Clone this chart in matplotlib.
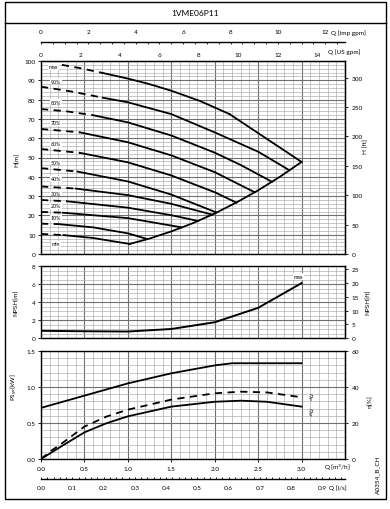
import matplotlib.pyplot as plt
from matplotlib.ticker import MultipleLocator, FixedLocator
from matplotlib.patches import Rectangle
from matplotlib.lines import Line2D

plt.rcParams['font.family'] = ['Lato', 'DejaVu Sans']

title = '1VME06P11'

# pump curves, Q [m3/h] -> H [m]; first n_dash points drawn dashed
curve_labels = ['max', '90%', '80%', '70%', '60%', '50%', '40%', '30%', '20%', '10%', 'min']
curve_q = [
    [0.24, 0.45, 0.71, 1.0, 1.25, 1.5, 1.83, 2.17],
    [0.0, 0.35, 0.71, 1.0, 1.5, 2.0, 2.5, 2.86],
    [0.0, 0.3, 0.6, 1.0, 1.5, 2.0, 2.3, 2.66],
    [0.0, 0.45, 1.0, 1.5, 2.0, 2.46],
    [0.0, 0.45, 1.0, 1.5, 2.0, 2.25],
    [0.0, 0.42, 1.0, 1.5, 2.02],
    [0.0, 0.4, 1.0, 1.5, 1.97],
    [0.0, 0.3, 1.0, 1.5, 1.81],
    [0.0, 0.25, 1.0, 1.62],
    [0.0, 0.2, 0.6, 1.0, 1.22],
    [0.0, 0.26, 0.6, 1.02],
]
curve_h = [
    [98.0, 96.3, 93.8, 90.9, 88.0, 84.6, 79.3, 72.5],
    [86.7, 84.2, 81.0, 78.6, 72.5, 63.0, 53.0, 43.4],
    [75.1, 73.9, 71.9, 68.2, 61.4, 52.5, 46.1, 37.4],
    [64.8, 63.0, 57.9, 51.1, 42.4, 32.0],
    [54.4, 52.4, 47.5, 40.7, 32.0, 26.6],
    [44.5, 42.7, 37.6, 30.8, 21.5],
    [35.0, 33.9, 30.5, 26.0, 20.4],
    [28.0, 27.3, 24.0, 20.1, 17.1],
    [21.8, 21.4, 18.6, 13.8],
    [15.7, 15.5, 13.8, 10.7, 7.8],
    [10.4, 9.8, 8.3, 5.2],
]
n_dash = [3, 3, 3, 2, 2, 2, 2, 2, 2, 2, 2]
label_q = [0.14, 0.17, 0.17, 0.17, 0.17, 0.17, 0.17, 0.17, 0.17, 0.17, 0.17]
label_h = [97.0, 89.6, 78.7, 67.9, 57.3, 47.6, 38.9, 31.6, 24.9, 18.7, 5.2]

# operating range limits
edge_q = [2.17, 3.0]
edge_h = [72.5, 47.7]
limit_q = [1.02, 1.25, 1.5, 1.75, 2.0, 2.25, 2.5, 2.75, 3.0]
limit_h = [5.2, 8.0, 11.7, 16.0, 21.0, 26.7, 33.0, 40.0, 47.7]

# NPSH
npsh_q = [0.0, 0.5, 1.0, 1.5, 2.0, 2.5, 3.0]
npsh_m = [0.8, 0.75, 0.72, 1.0, 1.75, 3.35, 6.1]

# power and efficiency
p1_q = [0.0, 0.5, 1.0, 1.5, 2.0, 2.2, 3.0]
p1_kw = [0.71, 0.88, 1.05, 1.19, 1.30, 1.33, 1.33]
etap_q = [0.0, 0.1, 0.25, 0.5, 0.75, 1.0, 1.5, 2.0, 2.3, 2.6, 3.0]
etap_pct = [0.0, 4.0, 9.0, 18.0, 23.5, 27.4, 33.0, 36.5, 37.4, 37.0, 34.3]
etagr_q = [0.0, 0.1, 0.25, 0.5, 0.75, 1.0, 1.5, 2.0, 2.3, 2.6, 3.0]
etagr_pct = [0.0, 3.0, 7.5, 14.8, 19.8, 23.7, 29.1, 31.8, 32.4, 31.8, 29.1]

imp_ticks = [0, 2, 4, 6, 8, 10, 12]
us_ticks = [0, 2, 4, 6, 8, 10, 12, 14]
ls_ticks = [0.0, 0.1, 0.2, 0.3, 0.4, 0.5, 0.6, 0.7, 0.8, 0.9]
hft_ticks = [0, 50, 100, 150, 200, 250, 300]
nft_ticks = [0, 5, 10, 15, 20, 25]
eta_ticks = [0, 20, 40, 60]

W, H = 390, 510
fig = plt.figure(figsize=(W / 100, H / 100), dpi=100)

def fx(px):
    return px / W

def fy(py):
    return 1 - py / H

L, R = 41, 345
qmax = 3.5
fs = 4.6
major_c, minor_c = '#707070', '#a8a8a8'

def ax_x(px):
    # pixel column -> axes fraction of the chart columns
    return (px - L) / (R - L)

def style(ax, ymaj, ymin):
    ax.set_xlim(0, qmax)
    ax.xaxis.set_major_locator(MultipleLocator(0.5))
    ax.xaxis.set_minor_locator(MultipleLocator(0.1))
    ax.yaxis.set_major_locator(MultipleLocator(ymaj))
    ax.yaxis.set_minor_locator(MultipleLocator(ymin))
    ax.grid(which='major', color=major_c, lw=0.8)
    ax.grid(which='minor', color=minor_c, lw=0.45)
    ax.set_axisbelow(True)
    ax.tick_params(which='both', labelsize=fs, length=2, width=0.6, pad=2)
    ax.tick_params(which='minor', length=0)
    for s in ax.spines.values():
        s.set_linewidth(1.0)

def right_label(px, py, text):
    fig.text(fx(px), fy(py), text, fontsize=fs, rotation=90, ha='center', va='center')

# --- H chart
axh = fig.add_axes([fx(L), fy(255), fx(R - L), fy(62) - fy(255)])
style(axh, 10, 2)
axh.set_ylim(0, 100)
axh.tick_params(axis='x', labelbottom=False, length=0)
for i in range(len(curve_labels)):
    q, h, k = curve_q[i], curve_h[i], n_dash[i]
    axh.plot(q[:k], h[:k], color='k', lw=1.3, ls=(0, (4, 3)))
    axh.plot(q[k - 1:], h[k - 1:], color='k', lw=1.3)
    axh.text(label_q[i], label_h[i], curve_labels[i], fontsize=3.8, ha='center', va='center',
             bbox=dict(fc='white', ec='none', pad=0.6))
axh.plot(edge_q, edge_h, color='k', lw=1.3)
axh.plot(limit_q, limit_h, color='k', lw=1.3)
axh.set_ylabel('H[m]', fontsize=fs)
axh.yaxis.set_label_coords(ax_x(20), 0.49)

us = axh.secondary_xaxis('top', functions=(lambda x: x * 4.4029, lambda x: x / 4.4029))
us.xaxis.set_major_locator(FixedLocator(us_ticks))
us.tick_params(labelsize=fs, length=0, pad=3)
axh.annotate('Q [US gpm]', xy=(ax_x(328), 1), xycoords='axes fraction', xytext=(0, 7.2),
             textcoords='offset points', fontsize=fs, ha='left', va='center')

hft = axh.secondary_yaxis('right', functions=(lambda x: x * 3.2808, lambda x: x / 3.2808))
hft.yaxis.set_major_locator(FixedLocator(hft_ticks))
hft.tick_params(labelsize=fs, length=2, width=0.6, pad=3)
right_label(366, 147, 'H [ft]')

# imperial gpm scale
axi = fig.add_axes([fx(L), fy(43), fx(R - L), 1e-4])
axi.set_xlim(0, qmax * 3.6661)
axi.set_yticks([])
for s in ['top', 'left', 'right']:
    axi.spines[s].set_visible(False)
axi.spines['bottom'].set_linewidth(1.0)
axi.xaxis.set_major_locator(FixedLocator(imp_ticks))
axi.xaxis.set_minor_locator(MultipleLocator(0.5))
axi.tick_params(which='both', bottom=True, top=False, labelbottom=False, labeltop=True,
                direction='out', labelsize=fs, length=1.5, width=0.6, pad=4)
axi.annotate('Q [imp gpm]', xy=(ax_x(331), 0), xycoords='axes fraction', xytext=(0, 7.2),
             textcoords='offset points', fontsize=fs, ha='left', va='center')

# --- NPSH chart
axn = fig.add_axes([fx(L), fy(339), fx(R - L), fy(267) - fy(339)])
style(axn, 2, 0.5)
axn.set_ylim(0, 8)
axn.tick_params(axis='x', labelbottom=False, length=0)
axn.plot(npsh_q, npsh_m, color='k', lw=1.4)
axn.text(2.96, 6.8, 'max', fontsize=3.8, ha='center', va='center',
         bbox=dict(fc='white', ec='none', pad=0.6))
axn.set_ylabel('NPSH[m]', fontsize=fs)
axn.yaxis.set_label_coords(ax_x(19), 0.5)
nft = axn.secondary_yaxis('right', functions=(lambda x: x * 3.2808, lambda x: x / 3.2808))
nft.yaxis.set_major_locator(FixedLocator(nft_ticks))
nft.tick_params(labelsize=fs, length=2, width=0.6, pad=3)
right_label(368, 302, 'NPSH[ft]')

# --- power / efficiency chart
axp = fig.add_axes([fx(L), fy(460), fx(R - L), fy(352) - fy(460)])
style(axp, 0.5, 0.1)
axp.set_ylim(0, 1.5)
axp.xaxis.set_major_locator(FixedLocator([0.0, 0.5, 1.0, 1.5, 2.0, 2.5, 3.0]))
axp.xaxis.set_major_formatter(lambda v, p: f'{v:.1f}')
axp.yaxis.set_major_formatter(lambda v, p: f'{v:.1f}')
axp.tick_params(axis='x', pad=3)
axp.plot(p1_q, p1_kw, color='k', lw=1.3)
axp.plot(etap_q, [e / 40 for e in etap_pct], color='k', lw=1.3, ls=(0, (4, 3)))
axp.plot(etagr_q, [e / 40 for e in etagr_pct], color='k', lw=1.3)
axp.set_ylabel('P1$_{gr}$[kW]', fontsize=fs)
axp.yaxis.set_label_coords(ax_x(20), 0.676)
axp.text(3.08, 35.5 / 40, r'$\eta_p$', fontsize=4.6, rotation=-90, ha='center', va='center')
axp.text(3.08, 26.5 / 40, r'$\eta_{gr}$', fontsize=4.6, rotation=-90, ha='center', va='center')
axp.annotate('Q [m$^3$/h]', xy=(ax_x(324), 0), xycoords='axes fraction', xytext=(0, -5.5),
             textcoords='offset points', fontsize=fs, ha='left', va='center')
eta = axp.secondary_yaxis('right', functions=(lambda x: x * 40, lambda x: x / 40))
eta.yaxis.set_major_locator(FixedLocator(eta_ticks))
eta.tick_params(labelsize=fs, length=2, width=0.6, pad=3)
right_label(370, 402, 'η[%]')

# l/s scale
axl = fig.add_axes([fx(L), fy(480), fx(R - L), 1e-4])
axl.set_xlim(0, qmax / 3.6)
axl.set_yticks([])
for s in ['top', 'left', 'right']:
    axl.spines[s].set_visible(False)
axl.spines['bottom'].set_linewidth(1.0)
axl.xaxis.set_major_locator(FixedLocator(ls_ticks))
axl.xaxis.set_minor_locator(MultipleLocator(0.02))
axl.xaxis.set_major_formatter(lambda v, p: f'{v:.1f}')
axl.tick_params(which='both', direction='in', labelsize=fs, length=1.5, width=0.6, pad=4)
axl.annotate('Q [l/s]', xy=(ax_x(329), 0), xycoords='axes fraction', xytext=(0, -6),
             textcoords='offset points', fontsize=fs, ha='left', va='center')

# frame and title
fig.patches.append(Rectangle((fx(5), fy(500)), fx(381), fy(3) - fy(500), transform=fig.transFigure,
                             fill=False, ec='k', lw=1.0))
fig.lines.append(Line2D([fx(5), fx(386)], [fy(24), fy(24)], transform=fig.transFigure, color='k', lw=1.0))
fig.text(0.5, fy(14), title, fontsize=6, ha='center', va='center')
fig.text(fx(378), fy(475), 'A0354_B_CH', fontsize=4.6, rotation=90, ha='center', va='center')

fig.savefig('out.png', dpi=100)
